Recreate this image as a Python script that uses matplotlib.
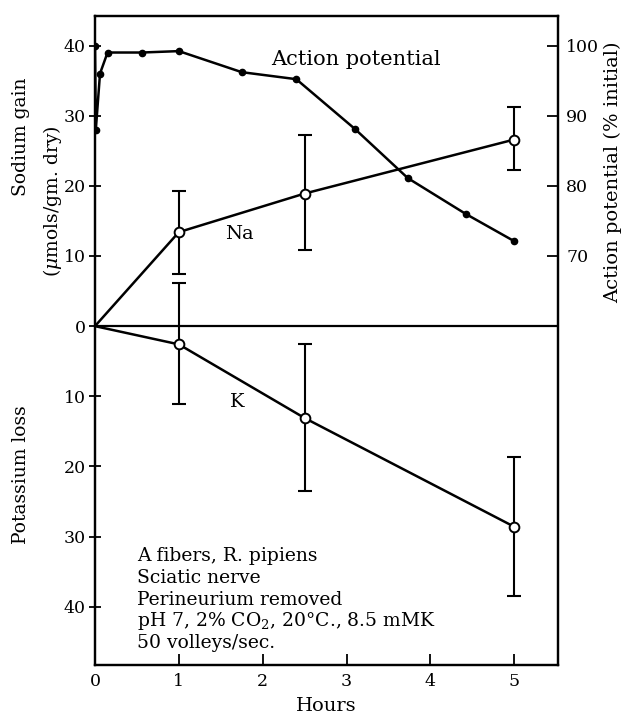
import matplotlib
matplotlib.use("Agg")
import matplotlib.pyplot as plt
import numpy as np

plt.rcParams['font.family'] = ['DejaVu Serif']
plt.rcParams['mathtext.fontset'] = 'dejavuserif'

# action potential (% initial), right axis
ap_hours = [0, 0.01, 0.06, 0.15, 0.56, 1.0, 1.75, 2.4, 3.1, 3.73, 4.42, 5.0]
ap_pct = [100, 88, 96, 99, 99, 99.2, 96.2, 95.2, 88.1, 81.1, 76, 72.1]

# sodium gain / potassium loss (umols/gm dry), left axis
ion_hours = [0, 1, 2.5, 5]
na_gain = [0, 13.4, 18.9, 26.6]
na_hi = [0, 19.2, 27.3, 31.2]
na_lo = [0, 7.5, 10.8, 22.2]
k_loss = [0, -2.6, -13.1, -28.6]
k_hi = [0, 6.1, -2.6, -18.7]
k_lo = [0, -11.1, -23.5, -38.5]

left_ticks = [40, 30, 20, 10, 0, -10, -20, -30, -40]
right_ticks = [70, 80, 90, 100]
notes = ["A fibers, R. pipiens", "Sciatic nerve", "Perineurium removed",
         "pH 7, 2% CO$_2$, 20\u00b0C., 8.5 mMK", "50 volleys/sec."]

fig = plt.figure(figsize=(6.29, 7.19), dpi=100)
ax = fig.add_axes([0.151, 0.0751, 0.736, 0.9026])
ax2 = ax.twinx()

ylo, yhi = -48.3, 44.2
ax.set_ylim(ylo, yhi)
ax2.set_ylim(ylo + 60, yhi + 60)
ax.set_xlim(0, 5.52)

ax.axhline(0, color='black', lw=1.6)

def draw_ions(vals, hi, lo):
    vals = np.array(vals)
    err = [vals - np.array(lo), np.array(hi) - vals]
    ax.errorbar(ion_hours[1:], vals[1:], yerr=[err[0][1:], err[1][1:]], fmt='none',
                ecolor='black', elinewidth=1.5, capsize=5, capthick=1.5, zorder=3)
    ax.plot(ion_hours, vals, color='black', lw=1.8, zorder=4)
    ax.plot(ion_hours[1:], vals[1:], 'o', ms=7, mfc='white', mec='black', mew=1.4, zorder=5)

draw_ions(na_gain, na_hi, na_lo)
draw_ions(k_loss, k_hi, k_lo)

ax2.plot(ap_hours, ap_pct, color='black', lw=1.8, marker='o', ms=4.5, zorder=4)

ax.text(3.11, 38.0, "Action potential", ha='center', va='center', fontsize=15)
ax.text(1.72, 13.2, "Na", ha='center', va='center', fontsize=14)
ax.text(1.70, -10.8, "K", ha='center', va='center', fontsize=14)

for i, line in enumerate(notes):
    ax.text(0.5, -33.5 - i * 3.1, line, ha='left', va='baseline', fontsize=13.5)

ax.set_yticks(left_ticks)
ax.set_yticklabels([str(abs(t)) for t in left_ticks])
ax.set_xticks([0, 1, 2, 3, 4, 5])
ax2.set_yticks(right_ticks)

ax.tick_params(axis='y', direction='inout', length=9, width=1.3, labelsize=12.5, pad=2)
ax.tick_params(axis='x', direction='in', length=8, width=1.3, labelsize=12.5, pad=6)
ax2.tick_params(axis='y', direction='in', length=8, width=1.3, labelsize=12.5, pad=6)

for a in (ax, ax2):
    for s in a.spines.values():
        s.set_linewidth(1.6)

ax.set_xlabel("Hours", fontsize=14, labelpad=5)

fig.text(0.033, 0.81, "Sodium gain", rotation=90, ha='center', va='center', fontsize=13.5)
fig.text(0.083, 0.72, "($\\mu$mols/gm. dry)", rotation=90, ha='center', va='center', fontsize=13.5)
fig.text(0.033, 0.34, "Potassium loss", rotation=90, ha='center', va='center', fontsize=13.5)
fig.text(0.975, 0.76, "Action potential (% initial)", rotation=90, ha='center', va='center', fontsize=14)

plt.savefig("out.png", dpi=100)
